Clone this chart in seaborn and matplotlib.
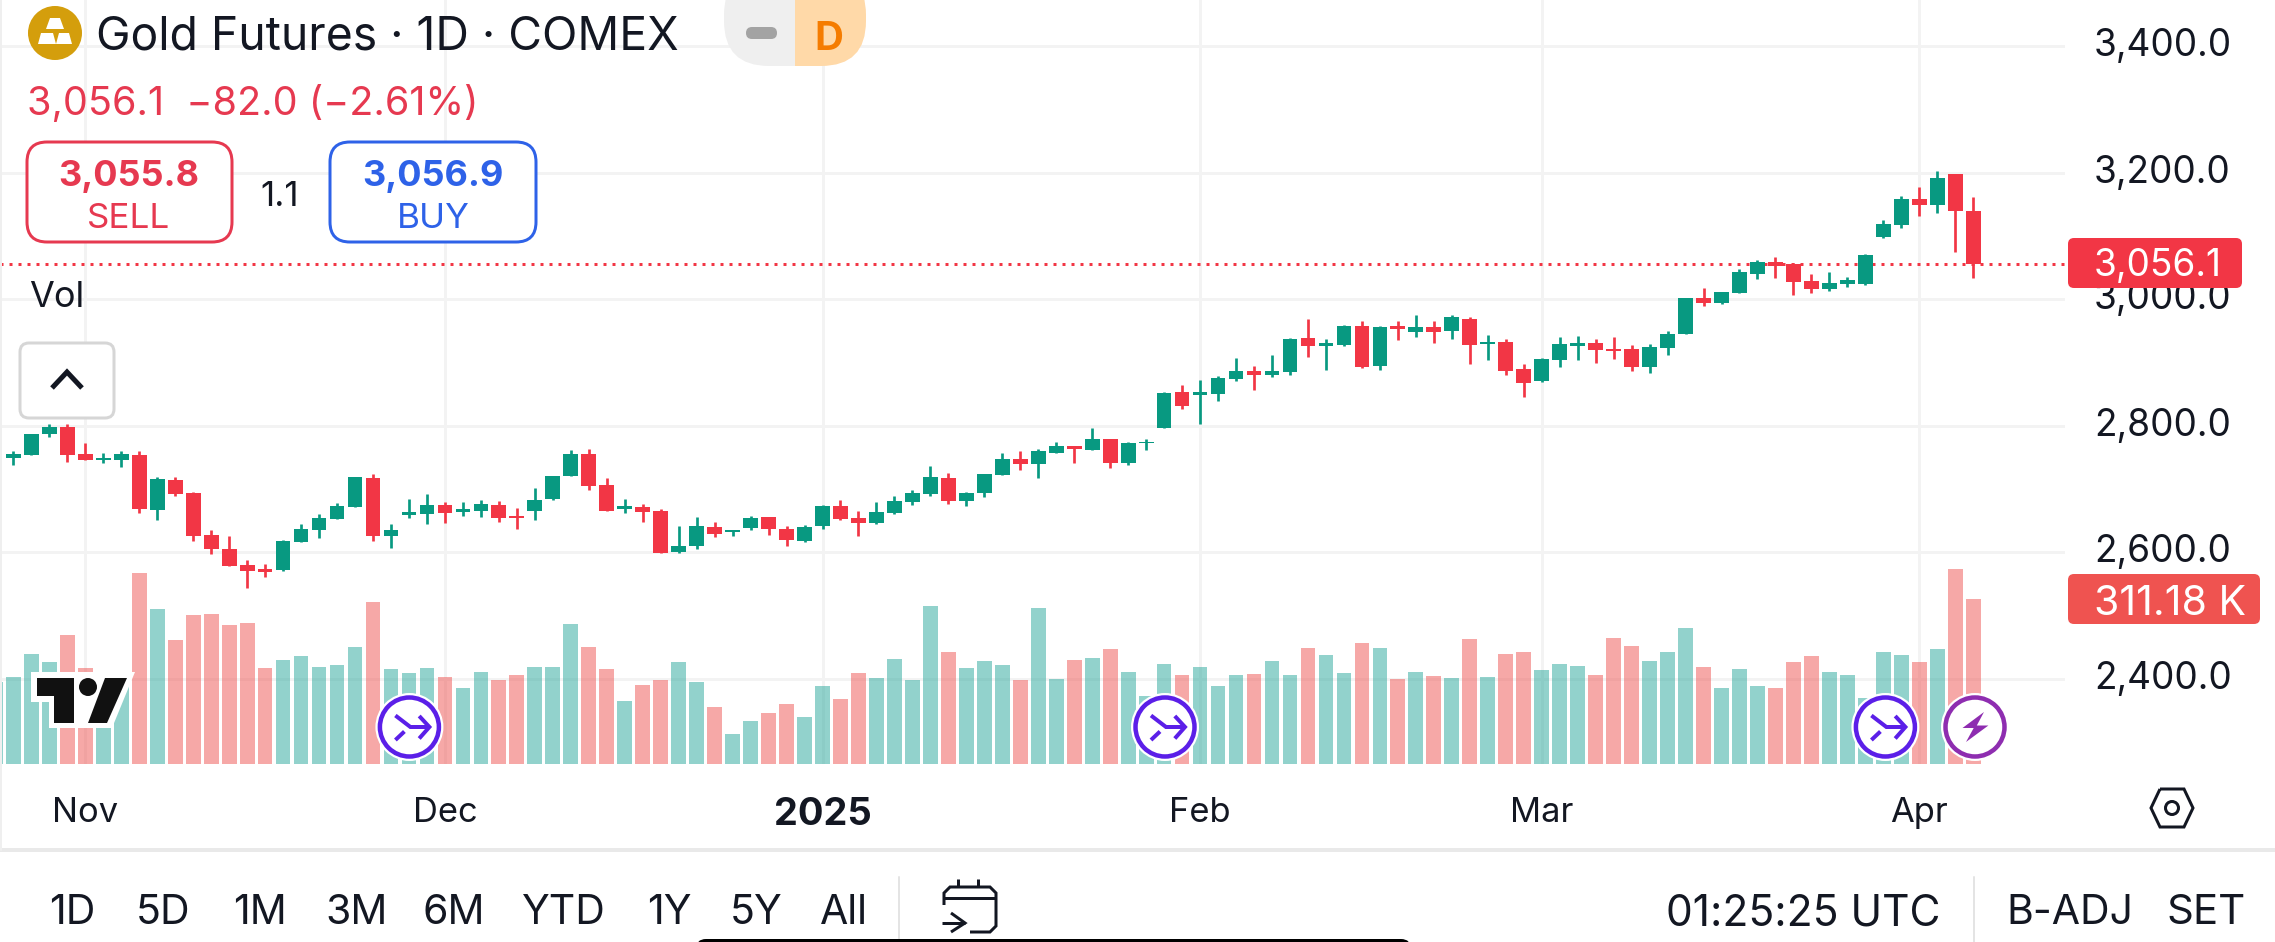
import matplotlib
matplotlib.use("Agg")
import matplotlib.pyplot as plt
from matplotlib.patches import FancyBboxPatch, Circle, Polygon, Rectangle
import numpy as np
import pandas as pd
import seaborn as sns

opens = [2748.4,2753.1,2785.8,2798.4,2754.2,2744.7,2744.7,2752.6,2666.2,2713.1,
         2692.6,2626.2,2605.2,2578.8,2572.5,2570.9,2615.7,2634.1,2652.0,2671.0,
         2716.3,2625.2,2657.8,2659.9,2673.6,2663.6,2664.1,2673.6,2656.2,2664.1,
         2683.6,2720.0,2754.2,2705.2,2667.3,2670.5,2664.1,2599.4,2609.4,2638.9,
         2631.5,2637.3,2654.7,2635.7,2617.8,2640.4,2672.0,2653.1,2645.2,2661.0,
         2678.4,2691.0,2716.3,2679.9,2692.6,2721.0,2746.3,2738.4,2757.3,2766.8,
         2760.5,2777.9,2741.5,2771.6,2795.3,2852.9,2848.7,2849.8,2873.5,2886.1,
         2880.3,2885.1,2938.3,2926.2,2927.2,2957.3,2894.0,2957.5,2948.0,2955.6,
         2949.9,2968.9,2928.9,2932.1,2888.9,2870.5,2903.5,2926.4,2930.8,2921.3,
         2921.3,2892.7,2921.9,2944.1,3001.9,2993.7,3008.9,3039.4,3058.4,3054.6,
         3027.9,3016.5,3024.1,3024.1,3098.4,3117.4,3158.0,3147.9,3197.4,3138.4]
closes = [2754.2,2786.8,2798.4,2753.1,2744.7,2748.9,2754.2,2667.8,2714.7,2691.0,
          2625.2,2604.6,2577.8,2569.9,2568.8,2616.7,2635.7,2654.1,2672.0,2717.9,
          2625.2,2634.1,2662.6,2673.6,2661.0,2667.3,2675.2,2653.1,2653.1,2682.6,
          2720.5,2754.2,2703.6,2664.7,2672.0,2662.6,2598.3,2609.9,2640.4,2627.8,
          2635.2,2653.1,2635.7,2618.3,2638.9,2672.0,2651.5,2645.2,2662.6,2679.9,
          2692.6,2717.9,2679.9,2692.6,2722.6,2746.3,2738.4,2758.9,2766.8,2762.1,
          2777.9,2741.5,2771.6,2774.7,2852.1,2830.8,2852.9,2875.1,2886.1,2880.3,
          2886.1,2936.7,2925.7,2930.9,2957.3,2892.5,2955.7,2951.8,2955.6,2948.0,
          2970.8,2927.6,2932.7,2886.4,2866.7,2905.4,2928.3,2930.8,2920.0,2917.5,
          2892.7,2923.8,2944.1,3001.9,2993.0,3010.8,3042.5,3058.4,3052.7,3027.3,
          3016.5,3026.0,3029.8,3069.8,3118.1,3158.0,3147.9,3191.0,3138.4,3056.1]
highs = [2758.9,2786.8,2801.6,2801.6,2773.1,2756.8,2758.9,2758.9,2717.9,2717.9,
         2694.2,2634.1,2624.6,2586.7,2580.4,2619.4,2643.6,2659.4,2676.8,2717.9,
         2722.6,2643.6,2683.1,2691.0,2678.4,2678.4,2681.5,2679.9,2668.9,2700.5,
         2720.5,2760.5,2762.1,2716.3,2683.1,2675.2,2667.3,2640.4,2654.7,2646.8,
         2635.2,2656.2,2654.7,2640.4,2642.0,2673.6,2681.5,2664.1,2678.4,2687.8,
         2697.3,2735.2,2724.2,2694.2,2722.6,2757.3,2758.9,2762.1,2774.7,2766.8,
         2795.3,2777.9,2774.7,2777.9,2853.7,2864.0,2871.9,2878.2,2906.7,2894.0,
         2911.4,2938.3,2968.4,2936.7,2958.9,2965.2,2957.3,2965.1,2974.6,2965.1,
         2974.6,2971.4,2943.5,2937.2,2897.2,2906.7,2940.3,2941.6,2937.2,2940.3,
         2927.0,2928.3,2949.9,3001.9,3017.8,3010.8,3047.6,3060.9,3066.0,3056.5,
         3039.4,3042.5,3035.5,3071.1,3125.0,3163.1,3177.1,3202.5,3197.4,3161.2]
lows = [2736.8,2753.1,2782.6,2742.1,2744.7,2740.5,2734.2,2661.5,2650.4,2688.4,
        2617.3,2596.7,2577.8,2543.0,2560.4,2569.9,2615.7,2622.0,2652.0,2671.0,
        2617.3,2606.2,2653.6,2643.6,2645.2,2656.2,2654.7,2646.8,2635.7,2649.9,
        2681.5,2720.0,2697.3,2664.7,2661.0,2646.8,2598.3,2597.8,2604.1,2623.1,
        2624.6,2634.1,2626.2,2608.8,2615.2,2635.7,2649.9,2624.6,2643.6,2659.4,
        2673.6,2687.8,2675.2,2672.0,2686.3,2721.0,2728.9,2716.3,2755.8,2741.5,
        2760.5,2732.1,2736.8,2760.5,2795.3,2826.6,2801.6,2839.2,2870.9,2856.1,
        2876.6,2880.3,2908.3,2887.7,2925.7,2891.4,2887.7,2934.6,2940.3,2930.8,
        2937.2,2897.2,2904.2,2880.0,2845.1,2868.0,2892.7,2904.2,2899.1,2905.4,
        2886.4,2883.2,2911.8,2944.1,2989.2,2992.4,3008.9,3031.7,3033.0,3005.7,
        3008.9,3012.1,3019.0,3022.8,3097.1,3113.0,3132.0,3135.8,3074.9,3033.6]
# first entry is the partly cropped bar left of the first visible candle
volumes_k = [154.7,164.1,207.5,192.4,243.3,181.1,158.0,168.0,360.2,292.3,233.9,
             281.0,282.9,262.2,265.9,181.1,196.2,203.7,183.0,186.7,220.7,
             305.5,179.2,171.6,181.1,164.1,143.3,173.5,158.4,167.9,183.0,
             183.0,264.1,220.7,179.2,118.8,149.0,158.4,192.4,154.7,107.5,
             56.6,81.1,96.2,113.2,88.6,147.1,122.6,171.6,162.2,198.0,
             158.4,298.0,211.2,181.1,194.3,186.7,158.4,294.2,160.3,196.2,
             199.9,216.9,173.5,128.3,188.6,167.9,183.0,147.1,167.9,169.7,
             194.3,167.9,218.8,205.6,171.6,228.2,218.8,159.9,172.8,165.2,
             162.9,235.6,163.7,207.6,211.4,177.3,188.7,184.9,167.5,237.2,
             222.8,194.0,211.4,256.1,182.6,143.2,178.8,147.0,143.2,192.5,
             203.8,173.5,167.5,124.3,211.4,205.3,192.5,216.7,367.5,311.18]

price_ticks = [2400, 2600, 2800, 3000, 3200, 3400]
month_ticks = [4, 24, 45, 66, 85, 106]
month_labels = ["Nov", "Dec", "2025", "Feb", "Mar", "Apr"]
last_price = 3056.1
period_labels = ["1D", "5D", "1M", "3M", "6M", "YTD", "1Y", "5Y", "All"]

W, H = 2275, 942
CHART_R, CHART_B = 2065, 764
UP, DOWN = "#089981", "#F23645"
VOL_UP, VOL_DOWN = "#26A69A", "#EF5350"
GRID = "#F3F3F3"
FONT = "Inter"
INK = "#131722"

sns.set_theme(style="white")
plt.rcParams["font.family"] = [FONT, "DejaVu Sans"]
px = 0.72

fig = plt.figure(figsize=(W / 100, H / 100), dpi=100, facecolor="white")
ax = fig.add_axes([0, 1 - CHART_B / H, CHART_R / W, CHART_B / H], facecolor="white")

xs = np.arange(len(opens))
is_up = np.array(closes) >= np.array(opens)
candle_colors = [UP if u else DOWN for u in is_up]

ax.vlines(xs, lows, highs, colors=candle_colors, linewidth=2.7 * px, zorder=3)
ax.bar(xs, np.abs(np.array(closes) - np.array(opens)),
       bottom=np.minimum(opens, closes), width=0.82, color=candle_colors,
       linewidth=0, zorder=4)
ax.axhline(last_price, color=DOWN, linewidth=3 * px, linestyle=(0, (1.0, 2.0)), zorder=2)

ax.set_xlim(-13.4 / 17.98, (CHART_R - 13.4) / 17.98)
ax.set_ylim(3000 - (CHART_B - 299) / 0.6325, 3000 + 299 / 0.6325)
ax.grid(True, color=GRID, linewidth=3 * px, zorder=0)
ax.set_axisbelow(True)
sns.despine(ax=ax, left=True, right=True, top=True, bottom=True)

vol_ax = ax.twinx()
vol_df = pd.DataFrame({
    "x": np.arange(-1, len(opens)),
    "vol": volumes_k,
    "dir": ["up"] + ["up" if u else "down" for u in is_up],
})
sns.barplot(data=vol_df, x="x", y="vol", hue="dir", native_scale=True, dodge=False,
            palette={"up": VOL_UP, "down": VOL_DOWN}, saturation=1, alpha=0.5,
            width=0.82, linewidth=0, legend=False, ax=vol_ax)
vol_ax.set_ylim(0, CHART_B * 1.886)
vol_ax.set_xlim(ax.get_xlim())
vol_ax.set_xlabel("")
vol_ax.set_ylabel("")
vol_ax.set_yticks([])
vol_ax.tick_params(axis="x", length=0, labelbottom=False)
vol_ax.grid(False)
sns.despine(ax=vol_ax, left=True, right=True, top=True, bottom=True)

# price and time scales; set after twinx because twinx moves the ticks to the left
ax.set_yticks(price_ticks)
ax.set_yticklabels([f"{p:,.1f}" for p in price_ticks])
ax.yaxis.tick_right()
ax.tick_params(axis="y", length=0, pad=29 * px, labelsize=37 * px, labelcolor=INK)
for lab in ax.get_yticklabels():
    lab.set_va("center")
ax.set_xticks(month_ticks)
ax.set_xticklabels(month_labels)
ax.tick_params(axis="x", length=0, pad=33 * px, labelsize=34.5 * px, labelcolor=INK)
ax.get_xticklabels()[2].set_fontweight("bold")
ax.get_xticklabels()[2].set_fontsize(38 * px)

# interface chrome, in pixel coordinates
ui = fig.add_axes([0, 0, 1, 1], zorder=10)
ui.set_xlim(0, W)
ui.set_ylim(H, 0)
ui.axis("off")
ui.patch.set_visible(False)


def txt(x, y, s, size, color=INK, ha="center", weight="normal", z=6):
    return ui.text(x, y, s, fontsize=size * px, color=color, ha=ha, va="center_baseline",
                   fontweight=weight, zorder=z)


def box(x0, y0, x1, y1, r, fc="none", ec="none", lw=0, z=3):
    p = FancyBboxPatch((x0 + r, y0 + r), x1 - x0 - 2 * r, y1 - y0 - 2 * r,
                       boxstyle=f"round,pad={r},rounding_size={r}",
                       fc=fc, ec=ec, lw=lw * px, zorder=z)
    ui.add_patch(p)
    return p


def stroke(pts, color=INK, lw=3, z=6):
    a = np.array(pts, float)
    ui.plot(a[:, 0], a[:, 1], color=color, lw=lw * px, solid_capstyle="butt",
            solid_joinstyle="miter", zorder=z)


# header
ui.add_patch(Circle((55, 33), 27, fc="#D49E0C", ec="none", zorder=3))
for pts in ([(50, 18), (60, 18), (64, 29), (46, 29)],
            [(38, 44), (41, 33), (53, 33), (56, 44)],
            [(56, 44), (59, 33), (69, 33), (72, 44)]):
    ui.add_patch(Polygon(pts, fc="white", ec="none", zorder=4))
txt(96, 33, "Gold Futures · 1D · COMEX", 46.3, ha="left")
pill_l = box(724, -30, 870, 66, 45, fc="#EFEFEF")
pill_l.set_clip_path(Rectangle((724, 0), 71, 70, transform=ui.transData))
pill_r = box(720, -30, 866, 66, 45, fc="#FFD9A8")
pill_r.set_clip_path(Rectangle((795, 0), 71, 70, transform=ui.transData))
box(746, 27, 777, 39, 6, fc="#A3A3A3", z=4)
txt(829, 35, "D", 40, color="#F57C00", weight="bold")
txt(27, 100, "3,056.1  −82.0 (−2.61%)", 39.5, color="#E63950", ha="left")

# sell / buy
box(27, 142, 232, 242, 20, fc="white", ec="#E63950", lw=3)
box(330, 142, 536, 242, 20, fc="white", ec="#2E62E8", lw=3)
txt(129, 173, "3,055.8", 36, color="#E63950", weight="bold")
txt(129, 216, "SELL", 35, color="#E63950")
txt(433, 173, "3,056.9", 36, color="#2E62E8", weight="bold")
txt(433, 216, "BUY", 35, color="#2E62E8")
txt(280, 193, "1.1", 35)

# legend line and collapse button
txt(29, 294, "Vol", 36, ha="left")
box(20, 343, 114, 418, 9, fc="white", ec="#D6D6D6", lw=3)
stroke([(52, 388), (67, 372), (82, 388)], lw=5)

# price tags
box(2068, 238, 2242, 288, 6, fc=DOWN)
txt(2094, 262, "3,056.1", 37, color="white", ha="left")
box(2068, 574, 2260, 624, 6, fc=VOL_DOWN)
txt(2094, 600, "311.18 K", 41, color="white", ha="left")

# TradingView mark
ui.add_patch(Polygon([(31, 672), (135, 672), (112, 728), (49, 728), (49, 702), (31, 702)],
                     fc="white", ec="none", zorder=4))
ui.add_patch(Polygon([(37, 678), (74, 678), (74, 723), (54, 723), (54, 696), (37, 696)],
                     fc="#111111", ec="none", zorder=5))
ui.add_patch(Circle((88, 687), 9, fc="#111111", ec="none", zorder=5))
ui.add_patch(Polygon([(105, 678), (127, 678), (107, 723), (88, 723)],
                     fc="#111111", ec="none", zorder=5))

# event badges
for cx, col, kind in [(409.4, "#5B1FE8", "m"), (1165, "#5B1FE8", "m"),
                      (1885.4, "#5B1FE8", "m"), (1975, "#8E2DB0", "b")]:
    ui.add_patch(Circle((cx, 727), 34, fc="white", ec="none", zorder=4))
    ui.add_patch(Circle((cx, 727), 29.5, fc="white", ec=col, lw=4.5 * px, zorder=5))
    if kind == "m":
        stroke([(cx - 14, 715.5), (cx + 1, 727), (cx + 20, 727)], color=col, lw=4)
        stroke([(cx + 9.8, 716), (cx + 20, 727), (cx + 9.8, 738.5)], color=col, lw=4)
        stroke([(cx - 14, 740), (cx - 5, 731.5)], color=col, lw=4)
    else:
        ui.add_patch(Polygon([(cx + 9, 712), (cx - 12.5, 728), (cx - 1.3, 728), (cx - 9, 742),
                              (cx + 13.4, 725.5), (cx + 1.8, 725.5)],
                             fc=col, ec="none", zorder=6))

# settings hexagon
stroke([(2160, 789), (2184, 789), (2193, 808), (2184, 827), (2160, 827), (2151, 808), (2160, 789)], lw=3)
ui.add_patch(Circle((2172, 808), 6.5, fc="white", ec=INK, lw=3 * px, zorder=6))

# footer
ui.plot([0, W], [850, 850], color="#E9E9E9", lw=4 * px, solid_capstyle="butt", zorder=2)
ui.plot([1, 1], [0, 850], color="#EFEFEF", lw=2 * px, zorder=2)
for x, s in zip([72, 163.5, 260, 356.5, 454, 563.5, 669, 756.5, 843.5], period_labels):
    txt(x, 909, s, 41)
ui.plot([899, 899], [877, H], color="#E4E4E4", lw=2 * px, zorder=2)
ui.plot([1974, 1974], [877, H], color="#E4E4E4", lw=2 * px, zorder=2)
txt(1803, 909, "01:25:25 UTC", 42.5)
txt(2070, 909, "B-ADJ", 41)
txt(2206, 909, "SET", 42)

# calendar icon
stroke([(944, 905), (944, 893), (950, 887), (990, 887), (996, 893), (996, 926), (990, 932), (970, 932)], lw=3)
stroke([(944, 898), (996, 898)], lw=3)
stroke([(958, 879), (958, 887)], lw=3)
stroke([(977.5, 879), (977.5, 887)], lw=3)
stroke([(942, 923), (965, 923)], lw=3)
stroke([(951, 913), (965, 923), (951, 932)], lw=3)

# home indicator
box(696, 939, 1411, 960, 10, fc="black", z=7)

fig.savefig("out.png", dpi=100, facecolor="white")
